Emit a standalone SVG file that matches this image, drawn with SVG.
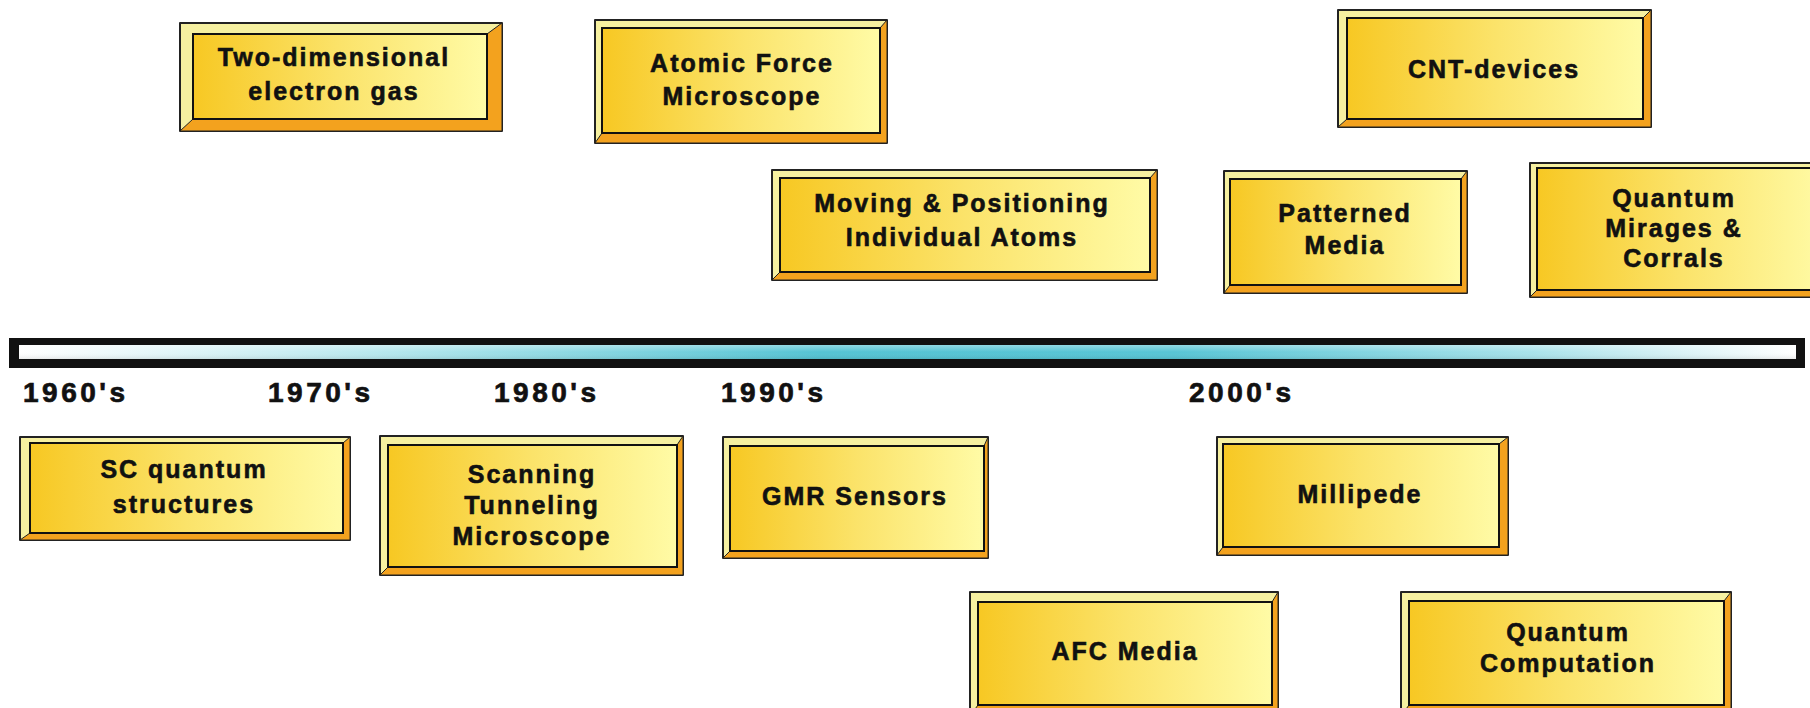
<svg xmlns="http://www.w3.org/2000/svg" width="1810" height="708" viewBox="0 0 1810 708">
<defs>
<linearGradient id="face" x1="0" y1="0" x2="1" y2="0">
<stop offset="0" stop-color="#F7C823"/>
<stop offset="0.5" stop-color="#FBE36A"/>
<stop offset="1" stop-color="#FFFBA6"/>
</linearGradient>
<linearGradient id="bar" x1="0" y1="0" x2="1" y2="0">
<stop offset="0" stop-color="#FFFFFF"/>
<stop offset="0.2" stop-color="#B8E8EE"/>
<stop offset="0.45" stop-color="#55C4D4"/>
<stop offset="0.65" stop-color="#58C5D5"/>
<stop offset="0.85" stop-color="#A8E2EA"/>
<stop offset="1" stop-color="#FFFFFF"/>
</linearGradient>
<linearGradient id="barv" x1="0" y1="0" x2="0" y2="1">
<stop offset="0" stop-color="#FFFFFF" stop-opacity="0.35"/>
<stop offset="0.5" stop-color="#FFFFFF" stop-opacity="0"/>
<stop offset="1" stop-color="#000000" stop-opacity="0.08"/>
</linearGradient>
</defs>
<style>
.light{fill:#F6F0A0;stroke:#222;stroke-width:2;stroke-linejoin:round}
.dark{fill:#F3A21E;stroke:#222;stroke-width:1;stroke-linejoin:round}
.face{fill:url(#face);stroke:#111;stroke-width:2}
.lbl{font-family:"Liberation Sans",Arial,sans-serif;font-weight:bold;font-size:25px;letter-spacing:2px;fill:#111;stroke:#111;stroke-width:0.6;text-anchor:middle}
.yr{font-family:"Liberation Sans",Arial,sans-serif;font-weight:bold;font-size:28px;letter-spacing:3.5px;fill:#111;stroke:#111;stroke-width:0.7}
</style>
<rect width="1810" height="708" fill="#FFFFFF"/>

<g id="timeline">
<rect x="9" y="338" width="1796" height="30" fill="#111"/>
<rect x="19" y="345" width="1777" height="14" fill="url(#bar)"/>
<rect x="19" y="345" width="1777" height="14" fill="url(#barv)"/>
<text class="yr" x="23" y="402">1960's</text>
<text class="yr" x="268" y="402">1970's</text>
<text class="yr" x="494" y="402">1980's</text>
<text class="yr" x="721" y="402">1990's</text>
<text class="yr" x="1189" y="402">2000's</text>
</g>

<g id="connectors"></g>

<g id="n-2deg">
<rect class="light" x="180" y="23" width="322" height="108"/>
<polygon class="dark" points="502,23 502,131 180,131 193,119 487,119 487,34"/>
<rect class="face" x="193" y="34" width="294" height="85"/>
<text class="lbl" x="334" y="66">Two-dimensional</text>
<text class="lbl" x="334" y="100">electron gas</text>
</g>

<g id="n-afm">
<rect class="light" x="595" y="20" width="292" height="123"/>
<polygon class="dark" points="887,20 887,143 595,143 602,133 880,133 880,28"/>
<rect class="face" x="602" y="28" width="278" height="105"/>
<text class="lbl" x="742" y="72">Atomic Force</text>
<text class="lbl" x="742" y="105">Microscope</text>
</g>

<g id="n-cnt">
<rect class="light" x="1338" y="10" width="313" height="117"/>
<polygon class="dark" points="1651,10 1651,127 1338,127 1347,119 1643,119 1643,18"/>
<rect class="face" x="1347" y="18" width="296" height="101"/>
<text class="lbl" x="1494" y="78">CNT-devices</text>
</g>

<g id="n-moving">
<rect class="light" x="772" y="170" width="385" height="110"/>
<polygon class="dark" points="1157,170 1157,280 772,280 780,272 1150,272 1150,178"/>
<rect class="face" x="780" y="178" width="370" height="94"/>
<text class="lbl" x="962" y="212">Moving &amp; Positioning</text>
<text class="lbl" x="962" y="246">Individual Atoms</text>
</g>

<g id="n-patterned">
<rect class="light" x="1224" y="171" width="243" height="122"/>
<polygon class="dark" points="1467,171 1467,293 1224,293 1230,285 1461,285 1461,179"/>
<rect class="face" x="1230" y="179" width="231" height="106"/>
<text class="lbl" x="1345" y="222">Patterned</text>
<text class="lbl" x="1345" y="254">Media</text>
</g>

<g id="n-mirages">
<rect class="light" x="1530" y="163" width="290" height="134"/>
<polygon class="dark" points="1820,163 1820,297 1530,297 1537,290 1820,290"/>
<rect class="face" x="1537" y="168" width="290" height="122"/>
<text class="lbl" x="1674" y="207">Quantum</text>
<text class="lbl" x="1674" y="237">Mirages &amp;</text>
<text class="lbl" x="1674" y="267">Corrals</text>
</g>

<g id="n-sc">
<rect class="light" x="20" y="437" width="330" height="103"/>
<polygon class="dark" points="350,437 350,540 20,540 30,533 343,533 343,443"/>
<rect class="face" x="30" y="443" width="313" height="90"/>
<text class="lbl" x="184" y="478">SC quantum</text>
<text class="lbl" x="184" y="513">structures</text>
</g>

<g id="n-stm">
<rect class="light" x="380" y="436" width="303" height="139"/>
<polygon class="dark" points="683,436 683,575 380,575 388,567 677,567 677,445"/>
<rect class="face" x="388" y="445" width="289" height="122"/>
<text class="lbl" x="532" y="483">Scanning</text>
<text class="lbl" x="532" y="514">Tunneling</text>
<text class="lbl" x="532" y="545">Microscope</text>
</g>

<g id="n-gmr">
<rect class="light" x="723" y="437" width="265" height="121"/>
<polygon class="dark" points="988,437 988,558 723,558 730,551 984,551 984,446"/>
<rect class="face" x="730" y="446" width="254" height="105"/>
<text class="lbl" x="855" y="505">GMR Sensors</text>
</g>

<g id="n-millipede">
<rect class="light" x="1217" y="437" width="291" height="118"/>
<polygon class="dark" points="1508,437 1508,555 1217,555 1223,547 1499,547 1499,444"/>
<rect class="face" x="1223" y="444" width="276" height="103"/>
<text class="lbl" x="1360" y="503">Millipede</text>
</g>

<g id="n-afc">
<rect class="light" x="970" y="592" width="308" height="124"/>
<polygon class="dark" points="1278,592 1278,716 970,716 978,705 1272,705 1272,602"/>
<rect class="face" x="978" y="602" width="294" height="103"/>
<text class="lbl" x="1125" y="660">AFC Media</text>
</g>

<g id="n-qc">
<rect class="light" x="1401" y="592" width="330" height="124"/>
<polygon class="dark" points="1731,592 1731,716 1401,716 1409,705 1724,705 1724,601"/>
<rect class="face" x="1409" y="601" width="315" height="104"/>
<text class="lbl" x="1568" y="641">Quantum</text>
<text class="lbl" x="1568" y="672">Computation</text>
</g>
</svg>
